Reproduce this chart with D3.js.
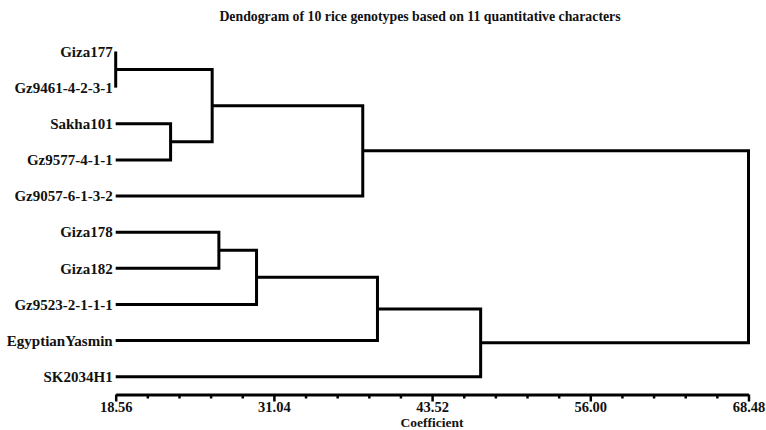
<!DOCTYPE html>
<html>
<head>
<meta charset="utf-8">
<script src="https://cdn.jsdelivr.net/npm/d3@7"></script>
<style>
  html, body { margin: 0; padding: 0; background: #fff; }
  svg { display: block; }
  text { font-family: "Liberation Serif", "Times New Roman", serif; font-weight: bold; fill: #111; }
</style>
</head>
<body>
<svg id="chart" width="766" height="430"></svg>
<script>
// ---- data ----
const title = "Dendogram of 10 rice genotypes based on 11 quantitative characters";
const axisTitle = "Coefficient";
const leaves = ["Giza177", "Gz9461-4-2-3-1", "Sakha101", "Gz9577-4-1-1", "Gz9057-6-1-3-2",
                "Giza178", "Giza182", "Gz9523-2-1-1-1", "EgyptianYasmin", "SK2034H1"];
// merges: cluster name, left member, right member, joining coefficient
const mergeNames   = ["C1", "C2", "C3", "C4", "C5", "C6", "C7", "C8", "C9"];
const mergeLeft    = ["Giza177", "Sakha101", "C1", "C3", "Giza178", "C5", "C6", "C7", "C4"];
const mergeRight   = ["Gz9461-4-2-3-1", "Gz9577-4-1-1", "C2", "Gz9057-6-1-3-2", "Giza182", "Gz9523-2-1-1-1", "EgyptianYasmin", "SK2034H1", "C8"];
const mergeHeights = [18.56, 22.89, 26.17, 38.05, 26.70, 29.67, 39.21, 47.35, 68.48];
const majorTicks = [18.56, 31.04, 43.52, 56.00, 68.48];
const minorTicks = [21.056, 23.552, 26.048, 28.544, 33.536, 36.032, 38.528, 41.024,
                    46.016, 48.512, 51.008, 53.504, 58.496, 60.992, 63.488, 65.984];

// ---- layout ----
const svg = d3.select("#chart");
const x = d3.scaleLinear().domain([18.56, 68.48]).range([115.7, 748.5]);
const y = d3.scalePoint().domain(leaves).range([51.5, 376.7]);

const pos = {};
leaves.forEach(l => { pos[l] = { x: x(18.56), y: y(l) }; });

const g = svg.append("g");
mergeNames.forEach((name, i) => {
  const a = pos[mergeLeft[i]], b = pos[mergeRight[i]];
  const hx = x(mergeHeights[i]);
  g.append("path")
    .attr("d", `M${a.x},${a.y}H${hx}V${b.y}H${b.x}`)
    .attr("fill", "none")
    .attr("stroke", "#000")
    .attr("stroke-width", 3)
    .attr("stroke-linejoin", "miter");
  pos[name] = { x: hx, y: (a.y + b.y) / 2 };
});

// leaf labels
svg.append("g").selectAll("text").data(leaves).join("text")
  .attr("x", x(18.56) - 3)
  .attr("y", d => y(d))
  .attr("dy", "0.35em")
  .attr("text-anchor", "end")
  .style("font-size", "15px")
  .text(d => d);

// axis
const axisY = 394.5;
const axisG = svg.append("g").attr("transform", `translate(0,${axisY})`)
  .call(d3.axisBottom(x).tickValues(majorTicks).tickSize(7).tickSizeOuter(0)
        .tickPadding(0).tickFormat(d3.format(".2f")));
axisG.select(".domain").attr("stroke", "#000").attr("stroke-width", 3);
axisG.selectAll(".tick line").attr("stroke", "#000").attr("stroke-width", 2.5);
axisG.selectAll(".tick text")
  .style("font-family", "'Liberation Serif', 'Times New Roman', serif")
  .style("font-weight", "bold").style("font-size", "14.5px").attr("fill", "#111");

const minorG = svg.append("g").attr("transform", `translate(0,${axisY})`)
  .call(d3.axisBottom(x).tickValues(minorTicks).tickSize(4).tickFormat(""));
minorG.select(".domain").remove();
minorG.selectAll(".tick line").attr("stroke", "#000").attr("stroke-width", 2.5);

// titles
svg.append("text").attr("x", 420).attr("y", 21).attr("text-anchor", "middle")
  .style("font-size", "13.8px").text(title);
svg.append("text").attr("x", (x.range()[0] + x.range()[1]) / 2).attr("y", 427)
  .attr("text-anchor", "middle").style("font-size", "13.5px").text(axisTitle);
</script>
</body>
</html>
